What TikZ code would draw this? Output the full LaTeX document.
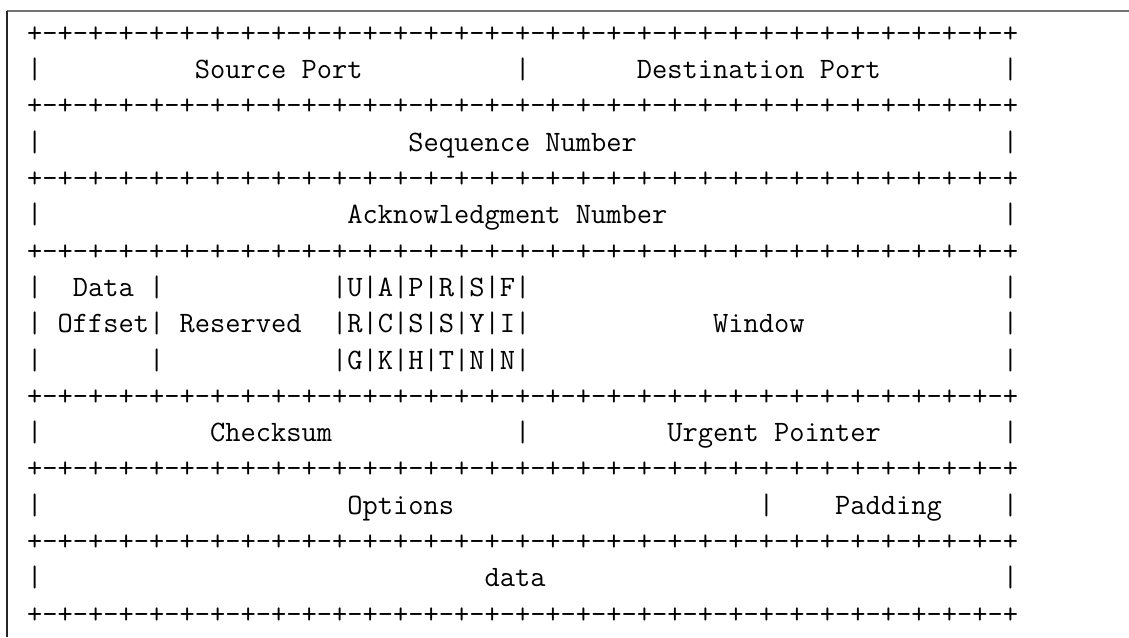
\documentclass[tikz,border=0pt]{standalone}
\usepackage{fontspec}
\newcommand\spc[1]{\hspace*{#1\fontcharwd\font`\+}}
\newcommand\plusline{+-+-+-+-+-+-+-+-+-+-+-+-+-+-+-+-+-+-+-+-+-+-+-+-+-+-+-+-+-+-+-+-+}
\begin{document}
\begin{tikzpicture}[x=1pt,y=-1pt,
  row/.style={anchor=base west,inner sep=0pt,outer sep=0pt,font=\fontsize{29.6}{36}\selectfont\ttfamily},
  framev/.style={draw=black!85,line width=1.2pt},
  frameh/.style={draw=black!55,line width=1.2pt}]
\useasboundingbox[fill=white] (0,0) rectangle (1129,637);
\def\xl{27.2}
\def\bz{42.3}
\def\pitch{36.3}
\coordinate (ftl) at (7,11);
\coordinate (ftr) at (1129,11);
\coordinate (fbl) at (7,637);
\draw[frameh] (ftl) -- (ftr);
\draw[framev] (ftl) -- (fbl);
\node[row] (r0) at (\xl,{\bz+0*\pitch}) {\plusline};
\node[row] (r1) at (\xl,{\bz+1*\pitch}) {|\spc{10}Source Port\spc{10}|\spc{7}Destination Port\spc{8}|};
\node[row] (r2) at (\xl,{\bz+2*\pitch}) {\plusline};
\node[row] (r3) at (\xl,{\bz+3*\pitch}) {|\spc{24}Sequence Number\spc{24}|};
\node[row] (r4) at (\xl,{\bz+4*\pitch}) {\plusline};
\node[row] (r5) at (\xl,{\bz+5*\pitch}) {|\spc{20}Acknowledgment Number\spc{22}|};
\node[row] (r6) at (\xl,{\bz+6*\pitch}) {\plusline};
\node[row] (r7) at (\xl,{\bz+7*\pitch}) {|\spc{2}Data\spc{1}|\spc{11}|U|A|P|R|S|F|\spc{31}|};
\node[row] (r8) at (\xl,{\bz+8*\pitch}) {|\spc{1}Offset|\spc{1}Reserved\spc{2}|R|C|S|S|Y|I|\spc{12}Window\spc{13}|};
\node[row] (r9) at (\xl,{\bz+9*\pitch}) {|\spc{7}|\spc{11}|G|K|H|T|N|N|\spc{31}|};
\node[row] (r10) at (\xl,{\bz+10*\pitch}) {\plusline};
\node[row] (r11) at (\xl,{\bz+11*\pitch}) {|\spc{11}Checksum\spc{12}|\spc{9}Urgent Pointer\spc{8}|};
\node[row] (r12) at (\xl,{\bz+12*\pitch}) {\plusline};
\node[row] (r13) at (\xl,{\bz+13*\pitch}) {|\spc{20}Options\spc{20}|\spc{4}Padding\spc{4}|};
\node[row] (r14) at (\xl,{\bz+14*\pitch}) {\plusline};
\node[row] (r15) at (\xl,{\bz+15*\pitch}) {|\spc{29}data\spc{30}|};
\node[row] (r16) at (\xl,{\bz+16*\pitch}) {\plusline};
\end{tikzpicture}
\end{document}
